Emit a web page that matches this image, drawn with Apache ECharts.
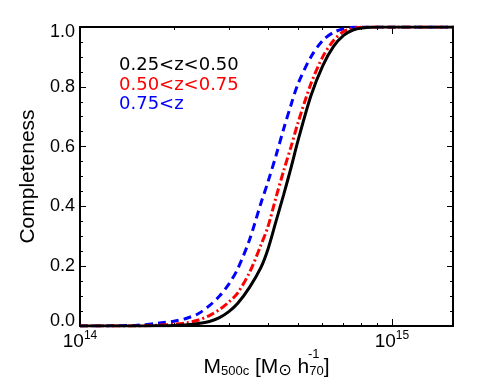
<!DOCTYPE html>
<html>
<head>
<meta charset="utf-8">
<script src="https://cdn.jsdelivr.net/npm/echarts@6/dist/echarts.min.js"></script>
<style>
  html, body { margin: 0; padding: 0; background: #fff; }
  #chart { width: 485px; height: 388px; }
</style>
</head>
<body>
<div id="chart"></div>
<script>
// mass in units of 1e14 Msun/h70
const mass = [1.0, 1.5, 1.8, 2.0, 2.2, 2.4, 2.6, 2.8, 3.0, 3.2, 3.5, 3.8, 4.0, 4.25, 4.5, 4.75, 5.0, 5.5, 6.0, 6.5, 7.0, 7.5, 8.0, 9.0, 10, 12, 15.8];
const lowZ = [0, 0, 0.001, 0.002, 0.004, 0.008, 0.015, 0.028, 0.048, 0.075, 0.13, 0.195, 0.255, 0.35, 0.44, 0.53, 0.62, 0.77, 0.87, 0.935, 0.972, 0.99, 0.997, 1, 1, 1, 1];
const midZ = [0, 0, 0.003, 0.006, 0.011, 0.02, 0.035, 0.055, 0.08, 0.11, 0.18, 0.27, 0.33, 0.43, 0.52, 0.6, 0.68, 0.81, 0.9, 0.955, 0.985, 0.995, 0.999, 1, 1, 1, 1];
const highZ = [0, 0.002, 0.01, 0.016, 0.026, 0.042, 0.068, 0.1, 0.14, 0.19, 0.29, 0.41, 0.48, 0.57, 0.66, 0.74, 0.81, 0.9, 0.955, 0.982, 0.994, 0.999, 1, 1, 1, 1, 1];
const seriesNames = ['0.25<z<0.50', '0.50<z<0.75', '0.75<z'];
const seriesColors = ['#000000', '#ff0000', '#0000ff'];
const majorTicks = [14, 15];
const minorTicks = [2, 3, 4, 5, 6, 7, 8, 9].map(k => Math.log10(k * 1e14));

const xMin = 14;
const xMax = Math.log10(1.57e15);
const toPts = vals => mass.map((m, i) => [Math.log10(m * 1e14), vals[i]]);

const chart = echarts.init(document.getElementById('chart'));
const axisFont = 'Liberation Sans';
const frame = { show: true, onZero: false, lineStyle: { color: '#000', width: 2 } };

const xBase = (gridIndex, position, ticks, len, labels) => ({
  type: 'value', gridIndex, position, min: xMin, max: xMax,
  axisLine: frame,
  splitLine: { show: false },
  axisTick: { show: true, inside: true, length: len, customValues: ticks, lineStyle: { color: '#000', width: 1 } },
  axisLabel: labels ? {
    show: true, customValues: majorTicks, margin: 4,
    formatter: v => '{b|10}{s|' + Math.round(v) + '}',
    rich: {
      b: { fontFamily: axisFont, fontSize: 19, color: '#000' },
      s: { fontFamily: axisFont, fontSize: 12, color: '#000', padding: [0, 0, 12, 0] }
    }
  } : { show: false }
});

const yBase = (position, labels) => ({
  type: 'value', gridIndex: 0, position, min: 0, max: 1, interval: 0.2,
  axisLine: frame,
  splitLine: { show: false },
  axisTick: { show: true, inside: true, length: 6, lineStyle: { color: '#000', width: 1 } },
  minorTick: { show: true, splitNumber: 4, length: 3, lineStyle: { color: '#000', width: 1 } },
  axisLabel: labels ? {
    show: true, margin: 5,
    formatter: v => {
      const s = v.toFixed(1);
      if (v >= 0.999) return '{t|' + s + '}';
      if (v <= 0.001) return '{m|' + s + '}';
      return '{n|' + s + '}';
    },
    rich: {
      n: { fontFamily: axisFont, fontSize: 18, color: '#000' },
      t: { fontFamily: axisFont, fontSize: 18, color: '#000', padding: [10, 0, 0, 0] },
      m: { fontFamily: axisFont, fontSize: 18, color: '#000', padding: [0, 0, 10, 0] }
    }
  } : { show: false },
  name: labels ? 'Completeness' : '',
  nameLocation: 'middle',
  nameGap: 40,
  nameTextStyle: { fontFamily: axisFont, fontSize: 21, color: '#000' }
});

const xTitle = Object.assign(xBase(0, 'bottom', majorTicks, 7, true), {
  name: '{m|M}{sub|500c}{m| [M}{o|⊙}{m| h}{sub|70}{m|]}',
  nameLocation: 'middle',
  nameGap: 26,
  nameTextStyle: {
    rich: {
      m: { fontFamily: axisFont, fontSize: 21, color: '#000' },
      sub: { fontFamily: axisFont, fontSize: 13, color: '#000', padding: [10, 0, 0, 0] },
      o: { fontFamily: 'DejaVu Sans', fontSize: 16, color: '#000', padding: [8, 0, 0, 0] }
    }
  }
});

const lineStyles = [
  { type: 'solid' },
  { type: [8, 3, 2, 3] },
  { type: [8, 5] }
];
const dataSets = [lowZ, midZ, highZ];

const series = [2, 1, 0].map(i => ({
  name: seriesNames[i],
  type: 'line',
  xAxisIndex: 0,
  yAxisIndex: 0,
  data: toPts(dataSets[i]),
  smooth: 0.3,
  showSymbol: false,
  silent: true,
  lineStyle: Object.assign({ color: seriesColors[i], width: 3 }, lineStyles[i])
}));

chart.setOption({
  animation: false,
  backgroundColor: '#fff',
  grid: [
    { left: 80, right: 32, top: 27, bottom: 62 },
    { left: 80, right: 32, top: 27, bottom: 62 }
  ],
  legend: {
    orient: 'vertical',
    left: 109,
    top: 51,
    itemWidth: 0,
    itemHeight: 10,
    itemGap: 0,
    selectedMode: false,
    textStyle: { fontFamily: 'DejaVu Sans', fontSize: 18, lineHeight: 19.5 },
    data: seriesNames.map((n, i) => ({ name: n, icon: 'none', textStyle: { color: seriesColors[i] } }))
  },
  xAxis: [
    xTitle,
    xBase(0, 'top', majorTicks, 7, false),
    xBase(1, 'bottom', minorTicks, 3, false),
    xBase(1, 'top', minorTicks, 3, false)
  ],
  yAxis: [
    yBase('left', true),
    yBase('right', false),
    { type: 'value', gridIndex: 1, min: 0, max: 1, show: false }
  ],
  graphic: [
    {
      type: 'text', left: 308, top: 348,
      style: { text: '-1', fontFamily: axisFont, fontSize: 13, fill: '#000' }
    }
  ],
  series
});
</script>
</body>
</html>
